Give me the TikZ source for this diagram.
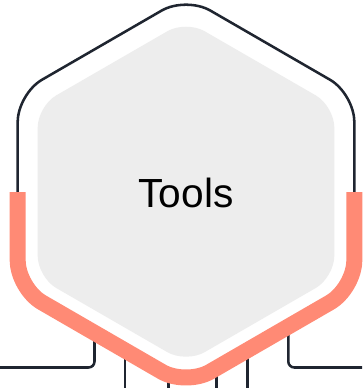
\documentclass[tikz,border=0pt]{standalone}
\usepackage{fontspec}
\setmainfont{Liberation Sans}
\usetikzlibrary{positioning}
\definecolor{coral}{HTML}{FF8A75}
\definecolor{ink}{HTML}{1F2530}
\definecolor{panel}{HTML}{EDEDED}

\begin{document}
\begin{tikzpicture}[x=0.75pt, y=-0.75pt,
    wire/.style={draw=ink, line width=1.9pt, rounded corners=4.5pt},
    rim/.style={draw=ink, line width=1.9pt, rounded corners=21pt},
    band/.style={draw=coral, line width=12pt, rounded corners=21pt},
    mask/.style={fill=white, rounded corners=21pt},
    core/.style={fill=panel, rounded corners=16pt},
    label/.style={font=\fontsize{30.5}{36}\selectfont, text=black, inner sep=0pt}
]
\useasboundingbox (0,0) rectangle (362,388);

% outer hexagon
\coordinate (ot) at (186,-3.5);
\coordinate (our) at (354.3,93.8);
\coordinate (olr) at (354.3,288.4);
\coordinate (ob) at (186,385.7);
\coordinate (oll) at (17.7,288.4);
\coordinate (oul) at (17.7,93.8);
% inner hexagon
\coordinate (it) at (186,20.5);
\coordinate (iur) at (334.3,106.1);
\coordinate (ilr) at (334.3,277.3);
\coordinate (ib) at (186,362.9);
\coordinate (ill) at (37.7,277.3);
\coordinate (iul) at (37.7,106.1);

% ports under the hexagon and free ends
\coordinate (p1) at (94.5,320);  \coordinate (e1) at (0,367.5);
\coordinate (p2) at (125,340);   \coordinate (e2) at (125,388);
\coordinate (p3) at (168.5,360); \coordinate (e3) at (168.5,388);
\coordinate (p4) at (216.7,360); \coordinate (e4) at (216.7,388);
\coordinate (p5) at (247.5,340); \coordinate (e5) at (247.5,388);
\coordinate (p6) at (288.3,320); \coordinate (e6) at (362,367.5);

\draw[wire] (p1) |- (e1);
\draw[wire] (p2) -- (e2);
\draw[wire] (p3) -- (e3);
\draw[wire] (p4) -- (e4);
\draw[wire] (p5) -- (e5);
\draw[wire] (p6) |- (e6);

\path[mask] (ot) -- (our) -- (olr) -- (ob) -- (oll) -- (oul) -- cycle;
\draw[rim] (17.7,196) -- (oul) -- (ot) -- (our) -- (354.3,196);
\draw[band] (17.7,192) -- (oll) -- (ob) -- (olr) -- (354.3,192);
\path[core] (it) -- (iur) -- (ilr) -- (ib) -- (ill) -- (iul) -- cycle;

\node[label] (hub) at (186,192.5) {Tools};

\end{tikzpicture}
\end{document}
